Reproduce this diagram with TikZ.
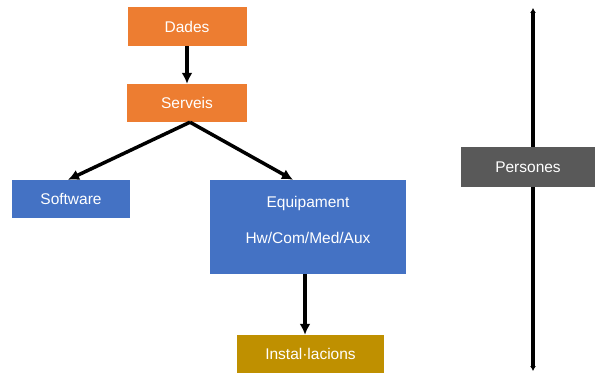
\documentclass[tikz,border=0pt]{standalone}
\usepackage{fontspec}
\setmainfont{Liberation Sans}
\usetikzlibrary{arrows.meta,positioning,calc}
\definecolor{orangebox}{HTML}{ED7D31}
\definecolor{bluebox}{HTML}{4472C4}
\definecolor{goldbox}{HTML}{BF9000}
\definecolor{greybox}{HTML}{595959}

\begin{document}
\begin{tikzpicture}[x=1pt,y=-1pt,font=\fontsize{15.5}{19}\selectfont,
    box/.style={text=white,inner sep=0pt},
    flow/.style={line width=3.5pt,-{Latex[length=11pt,width=11pt]}}]
    \useasboundingbox (0,0) rectangle (597,374);
    % left part
    \node[box,fill=orangebox,minimum width=119,minimum height=39] (dades) at (187,26.5) {Dades};
    \node[box,fill=orangebox,minimum width=120,minimum height=38] (serveis) at (187,103) {Serveis};
    \node[box,fill=bluebox,minimum width=118,minimum height=38] (software) at (71,199) {Software};
    \node[box,fill=bluebox,minimum width=196,minimum height=94,align=center] (equip) at (308,227)
      {Equipament\\[17pt]Hw/Com/Med/Aux\\[-4pt]\mbox{}};
    \node[box,fill=goldbox,minimum width=147,minimum height=38] (instal) at (310.5,354) {Instal·lacions};
    \draw[flow] (dades) -- (serveis);
    \draw[flow] ([xshift=3pt]serveis.south) -- ([xshift=-3pt]software.north);
    \draw[flow] ([xshift=3pt]serveis.south) -- ([xshift=-15pt]equip.north);
    \draw[flow] ([xshift=-3pt]equip.south) -- ([xshift=-3pt]equip.south |- instal.north);
    % people axis
    \coordinate (ptop) at (533,8);
    \coordinate (pbot) at (533,371);
    \draw[line width=3.5pt,{Latex[length=5pt,width=6pt]}-{Latex[length=5pt,width=6pt]}] (ptop) -- (pbot);
    \node[box,fill=greybox,minimum width=134,minimum height=40] (persones) at (528,167) {Persones};
\end{tikzpicture}
\end{document}
